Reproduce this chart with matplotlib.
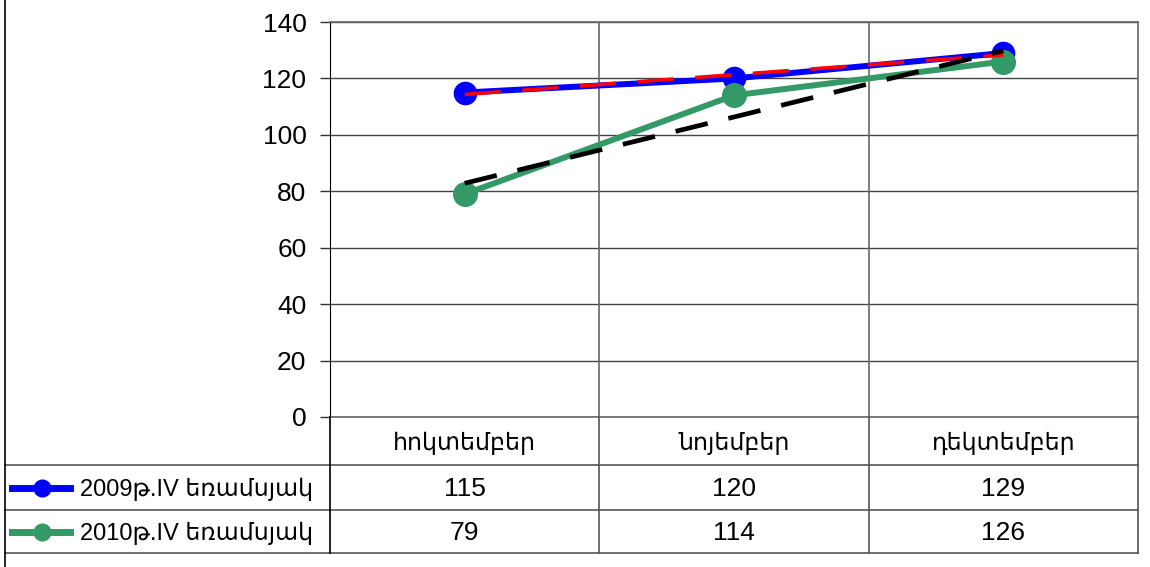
import numpy as np
import matplotlib
matplotlib.use('Agg')
from matplotlib import pyplot as plt
import matplotlib.transforms as mtransforms

plt.rcParams['font.family'] = ['Liberation Sans', 'DejaVu Sans']

months = ['հոկտեմբեր', 'նոյեմբեր', 'դեկտեմբեր']
labels = ['2009թ.IV եռամսյակ', '2010թ.IV եռամսյակ']
v2009 = [115, 120, 129]
v2010 = [79, 114, 126]
colors = ['#0000FF', '#339966']
yticks = [0, 20, 40, 60, 80, 100, 120, 140]

W, H = 1150, 567
fig = plt.figure(figsize=(W / 100, H / 100), dpi=100)

# plot area in pixels
x0, x1, ytop, ybot = 330, 1138, 22, 417
ax = fig.add_axes([x0 / W, 1 - ybot / H, (x1 - x0) / W, (ybot - ytop) / H])

x = np.arange(1, len(months) + 1)
ax.plot(x, v2009, color=colors[0], lw=4.3, marker='o', ms=16, zorder=3)
ax.plot(x, v2010, color=colors[1], lw=4.3, marker='o', ms=17, zorder=4)

# linear trends
p1 = np.polyfit(x, v2009, 1)
p2 = np.polyfit(x, v2010, 1)
ax.plot(x[[0, -1]], np.polyval(p1, x[[0, -1]]), color='red', lw=2.6,
        dashes=(10, 6), zorder=5)
ax.plot(x[[0, -1]], np.polyval(p2, x[[0, -1]]), color='black', lw=3.4,
        dashes=(7, 4.5), zorder=5)

ax.set_xlim(0.5, len(months) + 0.5)
ax.set_ylim(0, 140)
ax.set_yticks(yticks)
ax.tick_params(axis='y', labelsize=19, length=7, width=1, pad=10, color='#333')
ax.set_xticks([])
for yv in yticks:
    ax.axhline(yv, color='#444', lw=1, zorder=1)
for xv in np.arange(1.5, len(months), 1.0):
    ax.axvline(xv, color='#666', lw=1.2, zorder=1)
for s in ['top', 'right', 'bottom']:
    ax.spines[s].set_color('#666')
    ax.spines[s].set_linewidth(1.2)
ax.spines['left'].set_color('black')

# data table under the chart
ov = fig.add_axes([0, 0, 1, 1], facecolor='none')
ov.set_xlim(0, W)
ov.set_ylim(H, 0)
ov.axis('off')
rows = [417, 465, 510, 553]
lc = '#555'
for yv in rows[1:]:
    ov.plot([5, x1], [yv, yv], color=lc, lw=1.2)
ov.plot([5, 5], [0, H], color='black', lw=1.2)
ov.plot([x0, x0], [rows[0], rows[-1]], color='black', lw=1.2)
for xb in np.arange(1.5, len(months) + 1, 1.0):
    px = ax.transData.transform((xb, 0))[0]
    ov.plot([px, px], [rows[0], rows[-1]], color=lc, lw=1.2)

trans = mtransforms.blended_transform_factory(ax.transData, ov.transData)
for i, m in enumerate(months):
    ax.text(x[i], (rows[0] + rows[1]) / 2 + 2, m, transform=trans,
            ha='center', va='center', fontsize=17)
for r, (vals, lab, c) in enumerate(zip([v2009, v2010], labels, colors)):
    yc = (rows[r + 1] + rows[r + 2]) / 2 + 1
    for i, v in enumerate(vals):
        ax.text(x[i], yc, str(v), transform=trans, ha='center', va='center',
                fontsize=19)
    ov.plot([12, 70], [yc - 1, yc - 1], color=c, lw=5)
    ov.plot([42], [yc - 1], color=c, marker='o', ms=12)
    ov.text(80, yc + 1, lab, ha='left', va='center', fontsize=17)

fig.savefig('out.png', dpi=100)
